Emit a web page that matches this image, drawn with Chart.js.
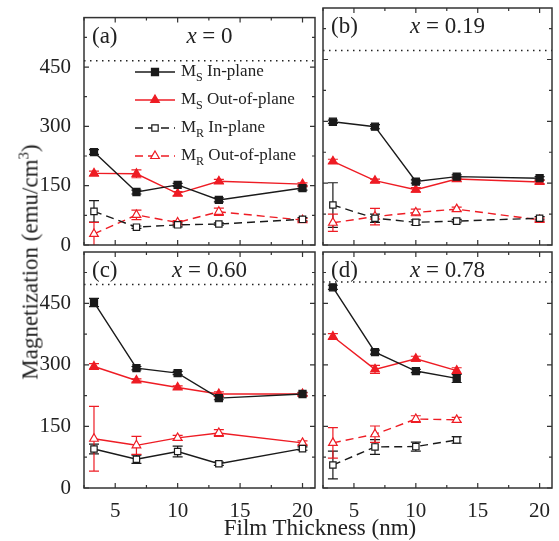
<!DOCTYPE html>
<html>
<head>
<meta charset="utf-8">
<title>Magnetization vs film thickness</title>
<script src="https://cdn.jsdelivr.net/npm/chart.js@4.4.1/dist/chart.umd.min.js"></script>
<style>
  html, body { margin: 0; padding: 0; background: #fff; }
  #wrap { position: relative; width: 559px; height: 541px; overflow: hidden;
          font-family: 'Liberation Serif', 'Times New Roman', serif; color: #222; }
  #wrap canvas { position: absolute; left: 0; top: 0; }
  .axis-title { position: absolute; white-space: nowrap; font-size: 23px; line-height: 1; }
  #xtitle { left: 320px; top: 527px; transform: translate(-50%, -50%); }
  #ytitle { left: 30px; top: 262px; transform: translate(-50%, -50%) rotate(-90deg); }
  #ytitle sup { font-size: 15px; vertical-align: 9px; line-height: 0; }
</style>
</head>
<body>
<div id="wrap">
  <canvas id="panel-a" width="559" height="541"></canvas>
  <canvas id="panel-b" width="559" height="541"></canvas>
  <canvas id="panel-c" width="559" height="541"></canvas>
  <canvas id="panel-d" width="559" height="541"></canvas>
  <div class="axis-title" id="xtitle">Film Thickness (nm)</div>
  <div class="axis-title" id="ytitle">Magnetization (emu/cm<sup>3</sup>)</div>
</div>
<script>
// ================================
//   DATA
// ================================
const thickness = [3.3, 6.7, 10, 13.3, 20];
const xTicks = [5, 10, 15, 20];
const xMinor = [2.5, 7.5, 12.5, 17.5];
const yTicks = [0, 150, 300, 450];
const yMinor = [75, 225, 375, 525];

const panelTags = ['(a)', '(b)', '(c)', '(d)'];
const compositions = ['0', '0.19', '0.60', '0.78'];
const msBulk = [466, 472, 496, 502];

// (a) x = 0
const msInA = [235, 134, 152, 114, 144];
const msInErrA = [6, 5, 4, 5, 5];
const msOutA = [181, 180, 130, 161, 154];
const msOutErrA = [6, 10, 5, 5, 3];
const mrInA = [85, 45, 51, 53, 65];
const mrInErrA = [27, 3, 5, 3, 4];
const mrOutA = [28, 76, 57, 84, 63];
const mrOutErrA = [29, 12, 5, 9, 4];

// (b) x = 0.19
const msInB = [299, 287, 154, 166, 162];
const msInErrB = [4, 5, 4, 4, 4];
const msOutB = [203, 156, 134, 160, 153];
const msOutErrB = [5, 4, 5, 5, 4];
const mrInB = [97, 65, 55, 58, 65];
const mrInErrB = [54, 10, 6, 4, 4];
const mrOutB = [54, 69, 79, 87, 61];
const mrOutErrB = [21, 20, 8, 5, 4];

// (c) x = 0.60
const msInC = [452, 292, 280, 219, 229];
const msInErrC = [10, 4, 4, 4, 4];
const msOutC = [296, 262, 245, 229, 229];
const msOutErrC = [7, 4, 4, 5, 3];
const mrInC = [95, 70, 89, 59, 96];
const mrInErrC = [12, 10, 13, 4, 4];
const mrOutC = [120, 104, 122, 134, 110];
const mrOutErrC = [79, 22, 6, 8, 5];

// (d) x = 0.78 (no 20 nm film)
const msInD = [489, 331, 285, 267];
const msInErrD = [5, 5, 4, 10];
const msOutD = [369, 289, 315, 286];
const msOutErrD = [7, 10, 6, 7];
const mrInD = [56, 100, 101, 117];
const mrInErrD = [34, 18, 11, 8];
const mrOutD = [110, 131, 168, 166];
const mrOutErrD = [37, 20, 8, 6];

const seriesNames = [
    ['M', 'S', ' In-plane'],
    ['M', 'S', ' Out-of-plane'],
    ['M', 'R', ' In-plane'],
    ['M', 'R', ' Out-of-plane']
];

// ================================
//   STYLE / LAYOUT
// ================================
const RED = '#ee1c24';
const BLACK = '#1a1a1a';
const FRAME = '#333';
const SERIF = "'Liberation Serif', 'Times New Roman', serif";
const W = 559, H = 541;
const Y_LABEL_W = 50, X_LABEL_H = 30;

function series(ys, errs, color, style, filled, dashed) {
    return {
        data: ys.map((v, i) => ({ x: thickness[i], y: v })),
        errors: errs,
        borderColor: color,
        backgroundColor: color,
        borderWidth: 1.4,
        borderDash: dashed ? [8, 5] : [],
        pointStyle: style,
        pointRadius: style === 'rect' && !filled ? 4.5 : 5,
        pointBorderWidth: 1.2,
        pointBorderColor: color,
        pointBackgroundColor: filled ? color : '#fff',
        tension: 0
    };
}

function bulkLine(value) {
    return {
        data: [{ x: 2.5, y: value }, { x: 21, y: value }],
        borderColor: '#222',
        borderWidth: 1.5,
        borderDash: [1.5, 4.5],
        pointRadius: 0
    };
}

// ================================
//   PLUGINS
// ================================
const errorBars = {
    id: 'errorBars',
    beforeDatasetsDraw(chart) {
        const { ctx, chartArea: a } = chart;
        const yScale = chart.scales.y;
        ctx.save();
        ctx.beginPath();
        ctx.rect(a.left, a.top, a.right - a.left, a.bottom - a.top);
        ctx.clip();
        chart.data.datasets.forEach((ds, di) => {
            if (!ds.errors) return;
            const meta = chart.getDatasetMeta(di);
            ctx.strokeStyle = ds.borderColor;
            ctx.lineWidth = 1.2;
            ctx.setLineDash([]);
            meta.data.forEach((pt, i) => {
                const v = ds.data[i].y, e = ds.errors[i];
                const top = yScale.getPixelForValue(v + e);
                const bot = yScale.getPixelForValue(v - e);
                ctx.beginPath();
                ctx.moveTo(pt.x, top); ctx.lineTo(pt.x, bot);
                ctx.moveTo(pt.x - 5, top); ctx.lineTo(pt.x + 5, top);
                ctx.moveTo(pt.x - 5, bot); ctx.lineTo(pt.x + 5, bot);
                ctx.stroke();
            });
        });
        ctx.restore();
    }
};

const frameTicks = {
    id: 'frameTicks',
    afterDraw(chart) {
        const { ctx, chartArea: a, scales: { x, y } } = chart;
        ctx.save();
        ctx.strokeStyle = FRAME;
        ctx.lineWidth = 1.5;
        ctx.strokeRect(a.left, a.top, a.right - a.left, a.bottom - a.top);
        ctx.lineWidth = 1.2;
        ctx.beginPath();
        const xMark = (v, len) => {
            const px = x.getPixelForValue(v);
            ctx.moveTo(px, a.bottom); ctx.lineTo(px, a.bottom - len);
            ctx.moveTo(px, a.top); ctx.lineTo(px, a.top + len);
        };
        const yMark = (v, len) => {
            const py = y.getPixelForValue(v);
            ctx.moveTo(a.left, py); ctx.lineTo(a.left + len, py);
            ctx.moveTo(a.right, py); ctx.lineTo(a.right - len, py);
        };
        x.ticks.forEach(t => xMark(t.value, 5));
        xMinor.forEach(v => xMark(v, 3));
        y.ticks.forEach(t => yMark(t.value, 5));
        yMinor.forEach(v => yMark(v, 3));
        ctx.stroke();
        ctx.restore();
    }
};

function panelText(tag, comp) {
    return {
        id: 'panelText',
        afterDraw(chart) {
            const { ctx, chartArea: a } = chart;
            const base = a.top + 25;
            ctx.save();
            ctx.fillStyle = '#222';
            ctx.textBaseline = 'alphabetic';
            ctx.font = '23px ' + SERIF;
            ctx.fillText(tag, a.left + 8, base);

            const head = 'italic 23px ' + SERIF, rest = '23px ' + SERIF;
            const tail = ' = ' + comp;
            ctx.font = head;
            const w1 = ctx.measureText('x').width;
            ctx.font = rest;
            const w2 = ctx.measureText(tail).width;
            let cx = (a.left + a.right) / 2 + 10 - (w1 + w2) / 2;
            ctx.font = head;
            ctx.fillText('x', cx, base);
            ctx.font = rest;
            ctx.fillText(tail, cx + w1, base);
            ctx.restore();
        }
    };
}

const seriesLegend = {
    id: 'seriesLegend',
    afterDraw(chart) {
        const { ctx } = chart;
        ctx.save();
        seriesNames.forEach((name, i) => {
            const ds = chart.data.datasets[i];
            const y = 72 + i * 28;
            ctx.strokeStyle = ds.borderColor;
            ctx.lineWidth = ds.borderWidth;
            ctx.setLineDash(ds.borderDash);
            ctx.beginPath();
            ctx.moveTo(135, y); ctx.lineTo(175, y);
            ctx.stroke();
            ctx.setLineDash([]);
            ctx.fillStyle = ds.pointBackgroundColor;
            ctx.lineWidth = ds.pointBorderWidth;
            Chart.helpers.drawPoint(ctx, {
                pointStyle: ds.pointStyle,
                radius: ds.pointRadius,
                rotation: 0,
                borderWidth: ds.pointBorderWidth
            }, 155, y);

            ctx.fillStyle = '#222';
            ctx.textBaseline = 'middle';
            let tx = 181;
            ctx.font = '17px ' + SERIF;
            ctx.fillText(name[0], tx, y);
            tx += ctx.measureText(name[0]).width;
            ctx.font = '12px ' + SERIF;
            ctx.fillText(name[1], tx, y + 6);
            tx += ctx.measureText(name[1]).width;
            ctx.font = '17px ' + SERIF;
            ctx.fillText(name[2], tx, y);
        });
        ctx.restore();
    }
};

// ================================
//   PANELS
// ================================
function makePanel(canvasId, idx, box, showX, showY, datasets, extra) {
    const yw = showY ? Y_LABEL_W : 0;
    const xh = showX ? X_LABEL_H : 0;
    const tickFont = { family: SERIF, size: 21 };
    return new Chart(document.getElementById(canvasId), {
        type: 'line',
        data: { datasets },
        options: {
            responsive: false,
            animation: false,
            events: [],
            layout: {
                padding: {
                    left: box.l - yw,
                    right: W - box.r,
                    top: box.t,
                    bottom: H - box.b - xh
                }
            },
            plugins: { legend: { display: false }, tooltip: { enabled: false } },
            scales: {
                x: {
                    type: 'linear',
                    min: 2.5,
                    max: 21,
                    afterBuildTicks: s => { s.ticks = xTicks.map(v => ({ value: v })); },
                    afterFit: s => { s.height = xh; },
                    grid: { display: false },
                    border: { display: false },
                    ticks: { display: showX, font: tickFont, color: '#222', padding: 3, maxRotation: 0, autoSkip: false }
                },
                y: {
                    type: 'linear',
                    min: 0,
                    max: 575,
                    afterBuildTicks: s => { s.ticks = yTicks.map(v => ({ value: v })); },
                    afterFit: s => { s.width = yw; },
                    grid: { display: false },
                    border: { display: false },
                    ticks: { display: showY, font: tickFont, color: '#222', padding: 5 }
                }
            }
        },
        plugins: [errorBars, frameTicks, panelText(panelTags[idx], compositions[idx])].concat(extra || [])
    });
}

const dataA = [
    series(msInA, msInErrA, BLACK, 'rect', true, false),
    series(msOutA, msOutErrA, RED, 'triangle', true, false),
    series(mrInA, mrInErrA, BLACK, 'rect', false, true),
    series(mrOutA, mrOutErrA, RED, 'triangle', false, true),
    bulkLine(msBulk[0])
];
const dataB = [
    series(msInB, msInErrB, BLACK, 'rect', true, false),
    series(msOutB, msOutErrB, RED, 'triangle', true, false),
    series(mrInB, mrInErrB, BLACK, 'rect', false, true),
    series(mrOutB, mrOutErrB, RED, 'triangle', false, true),
    bulkLine(msBulk[1])
];
const dataC = [
    series(msInC, msInErrC, BLACK, 'rect', true, false),
    series(msOutC, msOutErrC, RED, 'triangle', true, false),
    series(mrInC, mrInErrC, BLACK, 'rect', false, false),
    series(mrOutC, mrOutErrC, RED, 'triangle', false, false),
    bulkLine(msBulk[2])
];
const dataD = [
    series(msInD, msInErrD, BLACK, 'rect', true, false),
    series(msOutD, msOutErrD, RED, 'triangle', true, false),
    series(mrInD, mrInErrD, BLACK, 'rect', false, true),
    series(mrOutD, mrOutErrD, RED, 'triangle', false, true),
    bulkLine(msBulk[3])
];

makePanel('panel-a', 0, { l: 84, r: 315, t: 8, b: 245 }, false, true, dataA, [seriesLegend]);
makePanel('panel-b', 1, { l: 323, r: 552, t: 8, b: 245 }, false, false, dataB);
makePanel('panel-c', 2, { l: 84, r: 315, t: 252, b: 488 }, true, true, dataC);
makePanel('panel-d', 3, { l: 323, r: 552, t: 252, b: 488 }, true, false, dataD);
</script>
</body>
</html>
